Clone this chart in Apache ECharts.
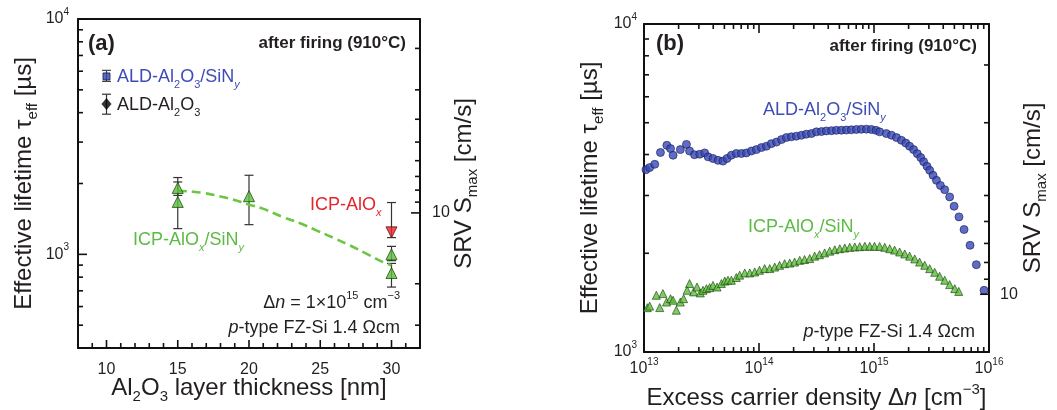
<!DOCTYPE html>
<html><head><meta charset="utf-8">
<script src="https://cdn.jsdelivr.net/npm/echarts@6/dist/echarts.min.js"></script>
<style>html,body{margin:0;padding:0;background:#fff}#c{width:1057px;height:410px}</style>
</head><body><div id="c"></div><script>
// ================= DATA =================
// Panel (a): lifetime vs Al2O3 thickness
const aXLabels = [10, 15, 20, 25, 30];
const aXMinorTicks = [9, 11, 12, 13, 14, 16, 17, 18, 19, 21, 22, 23, 24, 26, 27, 28, 29, 31];
const tauMajorTicks = [1000, 10000];
const tauMinorTicksA = [400, 500, 600, 700, 800, 900, 2000, 3000, 4000, 5000, 6000, 7000, 8000, 9000];
const tauMinorTicksB = [2000, 3000, 4000, 5000, 6000, 7000, 8000, 9000];
const srvLabels = [10];
const srvMinorTicks = [2, 3, 4, 5, 6, 7, 8, 9, 20, 30];

const aldSinX = [10], aldSinTau = [5700], aldSinLo = [5430], aldSinHi = [6050];
const aldX = [10], aldTau = [4350], aldLo = [3940], aldHi = [4790];
const icpSinX = [15, 15, 20, 30, 30];
const icpSinTau = [1915, 1670, 1766, 1000, 833];
const icpSinLo = [1780, 1286, 1337, 940, 726];
const icpSinHi = [2120, 2030, 2168, 1081, 915];
const icpX = [30], icpTau = [1240], icpLo = [1178], icpHi = [1660];
const fitX = [15, 15.23, 16.75, 17.93, 18.86, 19.92, 20.97, 22.38, 23.55, 24.72, 25.89, 27.07, 28.24, 29.41, 30];
const fitTau = [1860, 1859, 1824, 1766, 1710, 1633, 1564, 1441, 1359, 1265, 1178, 1092, 1007, 927, 898];

// Panel (b): lifetime vs excess carrier density
const bXLabels = [1e13, 1e14, 1e15, 1e16];
const bXMinorTicks = [2e13, 3e13, 4e13, 5e13, 6e13, 7e13, 8e13, 9e13, 2e14, 3e14, 4e14, 5e14, 6e14, 7e14, 8e14, 9e14, 2e15, 3e15, 4e15, 5e15, 6e15, 7e15, 8e15, 9e15];
const bAldDn = [1.04e13, 1.12e13, 1.24e13, 1.39e13, 1.58e13, 1.70e13, 1.79e13, 2.07e13, 2.34e13, 2.49e13, 2.75e13, 3.05e13, 3.37e13, 3.61e13, 3.98e13, 4.40e13, 4.86e13, 5.27e13, 5.75e13, 6.35e13, 7.03e13, 7.76e13, 8.59e13, 9.48e13,
  1.05e14, 1.16e14, 1.28e14, 1.42e14, 1.57e14, 1.73e14, 1.91e14, 2.11e14, 2.34e14, 2.58e14, 2.86e14, 3.16e14, 3.49e14, 3.85e14, 4.27e14, 4.71e14, 5.21e14, 5.75e14, 6.35e14, 7.03e14, 7.76e14, 8.59e14, 9.48e14,
  1.04e15, 1.12e15, 1.28e15, 1.42e15, 1.57e15, 1.73e15, 1.89e15, 2.04e15, 2.21e15, 2.38e15, 2.55e15, 2.70e15, 2.89e15, 3.05e15, 3.26e15, 3.49e15, 3.78e15, 4.12e15, 4.55e15, 4.97e15, 5.48e15, 6.07e15, 6.84e15, 7.76e15, 9.06e15];
const bAldTau = [3597, 3650, 3735, 4058, 4267, 4170, 3980, 4140, 4295, 4100, 3995, 4008, 4045, 3935, 3890, 3840, 3820, 3890, 3980, 4030, 4030, 4045, 4100, 4140,
  4200, 4240, 4318, 4365, 4443, 4505, 4530, 4550, 4580, 4615, 4635, 4690, 4700, 4720, 4730, 4740, 4745, 4750, 4760, 4770, 4775, 4780, 4770,
  4740, 4690, 4635, 4580, 4505, 4420, 4335, 4240, 4140, 4025, 3915, 3805, 3683, 3580, 3457, 3337, 3220, 3125, 2970, 2782, 2582, 2363, 2115, 1846, 1542];
const bIcpDn = [1.07e13, 1.12e13, 1.28e13, 1.37e13, 1.46e13, 1.57e13, 1.70e13, 1.79e13, 1.91e13, 2.07e13, 2.21e13, 2.37e13, 2.49e13, 2.70e13, 2.89e13, 3.09e13, 3.26e13, 3.49e13, 3.72e13, 3.98e13, 4.32e13, 4.71e13, 5.04e13, 5.37e13, 5.75e13, 6.35e13, 6.79e13, 7.52e13, 8.32e13, 9.18e13,
  1.01e14, 1.12e14, 1.24e14, 1.37e14, 1.51e14, 1.67e14, 1.85e14, 2.04e14, 2.26e14, 2.49e14, 2.76e14, 3.05e14, 3.36e14, 3.72e14, 4.12e14, 4.56e14, 5.04e14, 5.57e14, 6.15e14, 6.81e14, 7.52e14, 8.32e14, 9.18e14,
  1.01e15, 1.12e15, 1.24e15, 1.37e15, 1.51e15, 1.67e15, 1.85e15, 2.04e15, 2.26e15, 2.49e15, 2.76e15, 3.05e15, 3.37e15, 3.72e15, 4.12e15, 4.55e15, 5.04e15, 5.46e15];
const bIcpTau = [1365, 1380, 1489, 1366, 1507, 1420, 1454, 1438, 1341, 1420, 1454, 1542, 1617, 1525, 1578, 1514, 1542, 1560, 1571, 1596, 1578, 1617, 1645, 1655, 1655, 1687, 1715, 1742, 1742, 1754,
  1775, 1796, 1796, 1815, 1837, 1859, 1867, 1880, 1903, 1914, 1927, 1960, 1980, 2005, 2030, 2050, 2065, 2075, 2085, 2090, 2095, 2100, 2100,
  2100, 2098, 2085, 2065, 2045, 2018, 1990, 1960, 1922, 1880, 1838, 1795, 1750, 1702, 1655, 1605, 1560, 1530];

const SRV_K = 15000; // S_max [cm/s] = W / (2 tau), tau in µs
const tauRangeA = [400, 10000];
const tauRangeB = [1000, 10000];
const xRangeA = [8, 32];
const xRangeB = [1e13, 1e16];
const srvRangeA = [SRV_K / tauRangeA[1], SRV_K / tauRangeA[0]];
const srvRangeB = [SRV_K / tauRangeB[1], SRV_K / tauRangeB[0]];

// ================= STYLE =================
const FF = "'Liberation Sans', Arial, Helvetica, sans-serif";
const TXT = '#231f20';
const BLUE = '#3d4db5', GREEN = '#5cbb44', RED = '#e4262c';

function richSet(size, color) {
  const s = Math.round(size * 0.62);
  return {
    sub: { fontFamily: FF, fontSize: s, color: color, verticalAlign: 'bottom', lineHeight: s },
    subi: { fontFamily: FF, fontSize: s, color: color, fontStyle: 'italic', verticalAlign: 'bottom', lineHeight: s },
    sup: { fontFamily: FF, fontSize: s, color: color, verticalAlign: 'top', lineHeight: s },
    i: { fontFamily: FF, fontSize: size, color: color, fontStyle: 'italic' }
  };
}
function gRich(size, color) {
  const r = richSet(size, color);
  const o = {};
  for (const k in r) {
    o[k] = { fontFamily: FF, fontSize: r[k].fontSize, fill: color, verticalAlign: r[k].verticalAlign, lineHeight: r[k].lineHeight, fontStyle: r[k].fontStyle || 'normal' };
  }
  return o;
}
function pow10Label(v) {
  const e = Math.round(Math.log10(v));
  return '10{sup|' + e + '}';
}

const line = { show: true, lineStyle: { color: '#111', width: 2 } };
const nameStyle = (size) => ({ fontFamily: FF, fontSize: size, color: TXT, lineHeight: 32, rich: richSet(size, TXT) });
const tickLabStyle = { fontFamily: FF, fontSize: 16, color: TXT, lineHeight: 24, rich: richSet(16, TXT) };
const common = { axisTick: { show: false }, splitLine: { show: false }, minorTick: { show: false }, nameMoveOverlap: false };

// ---------- axes ----------
const xAxes = [
  Object.assign({}, common, {
    gridIndex: 0, type: 'value', min: xRangeA[0], max: xRangeA[1], position: 'bottom', axisLine: line,
    axisLabel: Object.assign({ customValues: aXLabels, margin: 10 }, tickLabStyle),
    name: 'Al{sub|2}O{sub|3} layer thickness [nm]', nameLocation: 'middle', nameGap: 24, nameTextStyle: nameStyle(24)
  }),
  Object.assign({}, common, {
    gridIndex: 0, type: 'value', min: xRangeA[0], max: xRangeA[1], position: 'top', axisLine: line, axisLabel: { show: false }
  }),
  Object.assign({}, common, {
    gridIndex: 1, type: 'log', logBase: 10, min: xRangeB[0], max: xRangeB[1], position: 'bottom', axisLine: line,
    axisLabel: Object.assign({ customValues: bXLabels, margin: 5, formatter: pow10Label }, tickLabStyle),
    name: 'Excess carrier density Δ{i|n} [cm{sup|−3}]', nameLocation: 'middle', nameGap: 30, nameTextStyle: nameStyle(24)
  }),
  Object.assign({}, common, {
    gridIndex: 1, type: 'log', logBase: 10, min: xRangeB[0], max: xRangeB[1], position: 'top', axisLine: line, axisLabel: { show: false }
  })
];

const yAxes = [
  Object.assign({}, common, {
    gridIndex: 0, type: 'log', logBase: 10, min: tauRangeA[0], max: tauRangeA[1], position: 'left', axisLine: line,
    axisLabel: Object.assign({ customValues: tauMajorTicks, margin: 9, formatter: pow10Label }, tickLabStyle),
    name: 'Effective lifetime τ{sub|eff} [µs]', nameLocation: 'middle', nameGap: 38, nameTextStyle: nameStyle(24)
  }),
  Object.assign({}, common, {
    gridIndex: 0, type: 'log', logBase: 10, inverse: true, min: srvRangeA[0], max: srvRangeA[1], position: 'right', axisLine: line,
    axisLabel: Object.assign({ customValues: srvLabels, margin: 12 }, tickLabStyle),
    name: 'SRV S{sub|max} [cm/s]', nameLocation: 'middle', nameGap: 28, nameTextStyle: nameStyle(24)
  }),
  Object.assign({}, common, {
    gridIndex: 1, type: 'log', logBase: 10, min: tauRangeB[0], max: tauRangeB[1], position: 'left', axisLine: line,
    axisLabel: Object.assign({ customValues: tauMajorTicks, margin: 7, formatter: pow10Label }, tickLabStyle),
    name: 'Effective lifetime τ{sub|eff} [µs]', nameLocation: 'middle', nameGap: 38, nameTextStyle: nameStyle(24)
  }),
  Object.assign({}, common, {
    gridIndex: 1, type: 'log', logBase: 10, inverse: true, min: srvRangeB[0], max: srvRangeB[1], position: 'right', axisLine: line,
    axisLabel: Object.assign({ customValues: srvLabels, margin: 11 }, tickLabStyle),
    name: 'SRV S{sub|max} [cm/s]', nameLocation: 'middle', nameGap: 28, nameTextStyle: nameStyle(24)
  })
];

// ---------- helpers ----------
const zip = (a, b) => a.map((v, i) => [v, b[i]]);
const zip3 = (a, b, c) => a.map((v, i) => [v, b[i], c[i]]);

// inward tick marks, placed through the axes' own scales
function ticks(xIdx, yIdx, values, orient, side, len, ref, range) {
  const vals = values.filter(v => v >= range[0] * 0.9999 && v <= range[1] * 1.0001);
  return {
    type: 'custom', xAxisIndex: xIdx, yAxisIndex: yIdx, z: 5, silent: true,
    data: vals.map(v => orient === 'x' ? [v, ref] : [ref, v]),
    encode: { x: 0, y: 1 },
    renderItem: function (params, api) {
      const p = api.coord([api.value(0), api.value(1)]);
      let shape;
      if (orient === 'x') {
        const d = side === 'bottom' ? -len : len;
        shape = { x1: p[0], y1: p[1], x2: p[0], y2: p[1] + d };
      } else {
        const d = side === 'left' ? len : -len;
        shape = { x1: p[0], y1: p[1], x2: p[0] + d, y2: p[1] };
      }
      return { type: 'line', shape: shape, style: { stroke: '#111', lineWidth: 1.6 } };
    }
  };
}

function errBars(x, lo, hi, color) {
  return {
    type: 'custom', xAxisIndex: 0, yAxisIndex: 0, z: 1, silent: true,
    data: zip3(x, lo, hi),
    encode: { x: 0, y: [1, 2] },
    renderItem: function (params, api) {
      const p1 = api.coord([api.value(0), api.value(1)]);
      const p2 = api.coord([api.value(0), api.value(2)]);
      const w = 4.5;
      const st = { stroke: color, lineWidth: 1.2 };
      return {
        type: 'group', children: [
          { type: 'line', shape: { x1: p1[0], y1: p1[1], x2: p2[0], y2: p2[1] }, style: st },
          { type: 'line', shape: { x1: p1[0] - w, y1: p1[1], x2: p1[0] + w, y2: p1[1] }, style: st },
          { type: 'line', shape: { x1: p2[0] - w, y1: p2[1], x2: p2[0] + w, y2: p2[1] }, style: st }
        ]
      };
    }
  };
}

const series = [
  // ticks, panel (a)
  ticks(0, 0, aXLabels, 'x', 'bottom', 8, tauRangeA[0], xRangeA),
  ticks(0, 0, aXMinorTicks, 'x', 'bottom', 5, tauRangeA[0], xRangeA),
  ticks(0, 0, tauMajorTicks, 'y', 'left', 9, xRangeA[0], tauRangeA),
  ticks(0, 0, tauMinorTicksA, 'y', 'left', 5, xRangeA[0], tauRangeA),
  ticks(0, 1, srvLabels, 'y', 'right', 9, xRangeA[1], srvRangeA),
  ticks(0, 1, srvMinorTicks, 'y', 'right', 5, xRangeA[1], srvRangeA),
  // ticks, panel (b)
  ticks(2, 2, bXLabels, 'x', 'bottom', 9, tauRangeB[0], xRangeB),
  ticks(2, 2, bXMinorTicks, 'x', 'bottom', 5, tauRangeB[0], xRangeB),
  ticks(2, 2, bXLabels, 'x', 'top', 9, tauRangeB[1], xRangeB),
  ticks(2, 2, bXMinorTicks, 'x', 'top', 5, tauRangeB[1], xRangeB),
  ticks(2, 2, tauMajorTicks, 'y', 'left', 9, xRangeB[0], tauRangeB),
  ticks(2, 2, tauMinorTicksB, 'y', 'left', 5, xRangeB[0], tauRangeB),
  ticks(2, 3, srvLabels, 'y', 'right', 9, xRangeB[1], srvRangeB),
  ticks(2, 3, srvMinorTicks, 'y', 'right', 5, xRangeB[1], srvRangeB),
  // panel (a) data
  errBars(aldSinX, aldSinLo, aldSinHi, '#444'),
  errBars(aldX, aldLo, aldHi, '#333'),
  errBars(icpSinX, icpSinLo, icpSinHi, '#333'),
  errBars(icpX, icpLo, icpHi, '#333'),
  {
    type: 'line', xAxisIndex: 0, yAxisIndex: 0, data: zip(fitX, fitTau), smooth: true, showSymbol: false, z: 2,
    lineStyle: { color: '#6cc644', width: 2.6, type: [9, 5] }, silent: true
  },
  {
    type: 'scatter', xAxisIndex: 0, yAxisIndex: 0, data: zip(aldSinX, aldSinTau), symbol: 'rect', symbolSize: 7, z: 3,
    itemStyle: { color: '#3446b0', borderColor: '#141a50', borderWidth: 1 }
  },
  {
    type: 'scatter', xAxisIndex: 0, yAxisIndex: 0, data: zip(aldX, aldTau), symbol: 'diamond', symbolSize: [10, 12], z: 3,
    itemStyle: { color: '#000' }
  },
  {
    type: 'scatter', xAxisIndex: 0, yAxisIndex: 0, data: zip(icpSinX, icpSinTau), symbol: 'triangle', symbolSize: 11, z: 3,
    itemStyle: { color: '#5cbf3a', borderColor: '#1d4d12', borderWidth: 1 }
  },
  {
    type: 'scatter', xAxisIndex: 0, yAxisIndex: 0, data: zip(icpX, icpTau), symbol: 'triangle', symbolRotate: 180, symbolSize: 11, z: 3,
    itemStyle: { color: '#e8262c', borderColor: '#6a0d10', borderWidth: 1 }
  },
  // panel (b) data
  {
    type: 'scatter', xAxisIndex: 2, yAxisIndex: 2, data: zip(bAldDn, bAldTau), symbol: 'circle', symbolSize: 8, z: 3,
    itemStyle: { color: '#3849b3', borderColor: '#161d5c', borderWidth: 0.8 }
  },
  {
    type: 'scatter', xAxisIndex: 2, yAxisIndex: 2, data: zip(bIcpDn, bIcpTau), symbol: 'triangle', symbolSize: 8, z: 3,
    itemStyle: { color: '#5cbf3a', borderColor: '#173f0c', borderWidth: 0.8 }
  }
];

// ---------- annotations ----------
function txt(x, y, text, size, color, opts) {
  opts = opts || {};
  return {
    type: 'text', x: x, y: y, silent: true, z: 10,
    style: {
      text: text, fontFamily: FF, fontSize: size, fontWeight: opts.bold ? 'bold' : 'normal',
      fill: color, align: opts.align || 'left', verticalAlign: 'middle', lineHeight: Math.round(size * 1.45),
      rich: gRich(size, color)
    }
  };
}
const textGraphics = [
  txt(88, 44, '(a)', 22, TXT, { bold: true }),
  txt(406, 43, 'after firing (910°C)', 17, TXT, { bold: true, align: 'right' }),
  txt(117, 77, 'ALD-Al{sub|2}O{sub|3}/SiN{subi|y}', 18, BLUE),
  txt(117, 105, 'ALD-Al{sub|2}O{sub|3}', 18, TXT),
  txt(310, 205, 'ICP-AlO{subi|x}', 18, RED),
  txt(133, 240, 'ICP-AlO{subi|x}/SiN{subi|y}', 18, GREEN),
  txt(400, 303, 'Δ{i|n} = 1×10{sup|15} cm{sup|−3}', 18, TXT, { align: 'right' }),
  txt(400, 328, '{i|p}-type FZ-Si 1.4 Ωcm', 18, TXT, { align: 'right' }),
  txt(656, 44, '(b)', 22, TXT, { bold: true }),
  txt(977, 46, 'after firing (910°C)', 17, TXT, { bold: true, align: 'right' }),
  txt(763, 110, 'ALD-Al{sub|2}O{sub|3}/SiN{subi|y}', 18, BLUE),
  txt(748, 227, 'ICP-AlO{subi|x}/SiN{subi|y}', 18, GREEN),
  txt(975, 332, '{i|p}-type FZ-Si 1.4 Ωcm', 18, TXT, { align: 'right' })
];

const chart = echarts.init(document.getElementById('c'), null, { renderer: 'canvas' });
chart.setOption({
  animation: false,
  backgroundColor: '#fff',
  grid: [
    { left: 78, top: 19, width: 342, height: 329, containLabel: false, outerBoundsMode: 'none' },
    { left: 644, top: 24, width: 345, height: 328, containLabel: false, outerBoundsMode: 'none' }
  ],
  xAxis: xAxes,
  yAxis: yAxes,
  series: series,
  graphic: textGraphics
});
</script></body></html>
